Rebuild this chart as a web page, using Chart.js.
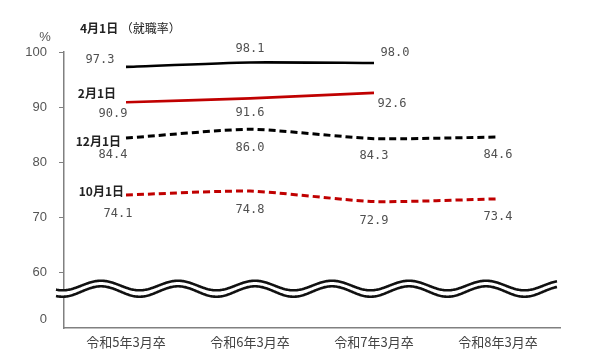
<!DOCTYPE html>
<html>
<head>
<meta charset="utf-8">
<script src="https://cdn.jsdelivr.net/npm/chart.js@4/dist/chart.umd.min.js"></script>
<style>
  body { margin: 0; background: #fff; }
</style>
</head>
<body>
<canvas id="c" width="607" height="363"></canvas>
<script>
// data
const categories = ['令和5年3月卒', '令和6年3月卒', '令和7年3月卒', '令和8年3月卒'];
const seriesNames = ['4月1日（就職率）', '2月1日', '12月1日', '10月1日'];
const apr1 = [97.3, 98.1, 98.0, null];
const feb1 = [90.9, 91.6, 92.6, null];
const dec1 = [84.4, 86.0, 84.3, 84.6];
const oct1 = [74.1, 74.8, 72.9, 73.4];
const yTicks = [51.5, 60, 70, 80, 90, 100]; // 51.5 is shown as "0" (broken axis)

// label placement (px offsets from the point)
const valueOffsets = [
  [[-26, -7], [0, -14], [21, -10]],
  [[-13, 12], [0, 15], [18, 11]],
  [[-13, 17], [0, 19], [0, 17], [0, 18]],
  [[-8, 19], [0, 19], [0, 19], [0, 18]]
];
const nameOffsets = [[-46, -38, 'left'], [-10, -9, 'right'], [-5, 3, 'right'], [-2, -4, 'right']];

const RED = '#c00000';

const labelPlugin = {
  id: 'labels',
  afterDatasetsDraw(chart) {
    const ctx = chart.ctx;
    ctx.save();
    ctx.textBaseline = 'middle';
    chart.data.datasets.forEach((ds, i) => {
      const meta = chart.getDatasetMeta(i);
      ctx.font = '12px "DejaVu Sans Mono", monospace';
      ctx.fillStyle = '#505050';
      ctx.textAlign = 'center';
      ds.data.forEach((v, j) => {
        if (v == null) return;
        const p = meta.data[j];
        const o = valueOffsets[i][j];
        ctx.fillText(v.toFixed(1), p.x + o[0], p.y + o[1]);
      });
      const p0 = meta.data[0];
      const n = nameOffsets[i];
      ctx.fillStyle = '#222';
      ctx.textAlign = n[2];
      const name = seriesNames[i];
      const k = name.indexOf('（');
      if (k > 0) {
        ctx.font = 'bold 12px "Noto Sans CJK JP"';
        const head = name.slice(0, k);
        ctx.fillText(head, p0.x + n[0], p0.y + n[1]);
        const w = ctx.measureText(head).width;
        ctx.font = '12px "Noto Sans CJK JP"';
        ctx.fillText(' ' + name.slice(k), p0.x + n[0] + w, p0.y + n[1]);
      } else {
        ctx.font = 'bold 12px "Noto Sans CJK JP"';
        ctx.fillText(name, p0.x + n[0], p0.y + n[1]);
      }
    });
    const a = chart.chartArea;
    ctx.font = '13px "Liberation Sans"';
    ctx.fillStyle = '#555';
    ctx.textAlign = 'center';
    ctx.fillText('%', a.left - 19, a.top - 15);
    ctx.restore();
  }
};

const wavePlugin = {
  id: 'wave',
  afterDraw(chart) {
    const ctx = chart.ctx;
    const a = chart.chartArea;
    const x0 = a.left - 8, x1 = a.right - 3;
    const period = 77, phase = a.left + 37;
    const up = x => a.bottom - 42.5 - 4.8 * Math.cos(2 * Math.PI * (x - phase) / period);
    const lo = x => a.bottom - 36.5 - 5.2 * Math.cos(2 * Math.PI * (x - phase) / period);
    ctx.save();
    ctx.beginPath();
    for (let x = x0; x <= x1; x++) x === x0 ? ctx.moveTo(x, up(x)) : ctx.lineTo(x, up(x));
    for (let x = x1; x >= x0; x--) ctx.lineTo(x, lo(x));
    ctx.closePath();
    ctx.fillStyle = '#fff';
    ctx.fill();
    ctx.strokeStyle = '#111';
    ctx.lineWidth = 2.6;
    [up, lo].forEach(f => {
      ctx.beginPath();
      for (let x = x0; x <= x1; x++) x === x0 ? ctx.moveTo(x, f(x)) : ctx.lineTo(x, f(x));
      ctx.stroke();
    });
    ctx.restore();
  }
};

new Chart(document.getElementById('c'), {
  type: 'line',
  data: {
    labels: categories,
    datasets: [
      { label: seriesNames[0], data: apr1, borderColor: '#000', borderWidth: 2.6 },
      { label: seriesNames[1], data: feb1, borderColor: RED, borderWidth: 2.6 },
      { label: seriesNames[2], data: dec1, borderColor: '#000', borderWidth: 3, borderDash: [7, 4] },
      { label: seriesNames[3], data: oct1, borderColor: RED, borderWidth: 3, borderDash: [7, 4] }
    ]
  },
  options: {
    responsive: false,
    animation: false,
    layout: { padding: { top: 52, right: 47, left: 0, bottom: 0 } },
    elements: { point: { radius: 0 }, line: { tension: 0.2 } },
    plugins: { legend: { display: false }, tooltip: { enabled: false } },
    scales: {
      x: {
        offset: true,
        afterFit: s => { s.height = 35; },
        grid: { display: false, drawTicks: false },
        border: { color: '#808080', width: 1.5 },
        ticks: { color: '#444', padding: 6, maxRotation: 0, font: { family: '"Noto Sans CJK JP"', size: 13 } }
      },
      y: {
        min: 50,
        max: 100,
        afterFit: s => { s.width = 64; },
        afterBuildTicks: s => { s.ticks = yTicks.map(v => ({ value: v })); },
        grid: {
          drawOnChartArea: false,
          tickLength: 5,
          color: c => (c.tick && c.tick.value < 60) ? 'rgba(0,0,0,0)' : '#808080'
        },
        border: { color: '#808080', width: 1.5 },
        ticks: {
          color: '#555',
          padding: 12,
          font: { family: '"Liberation Sans"', size: 13 },
          callback: v => v < 60 ? '0' : String(v)
        }
      }
    }
  },
  plugins: [labelPlugin, wavePlugin]
});
</script>
</body>
</html>
